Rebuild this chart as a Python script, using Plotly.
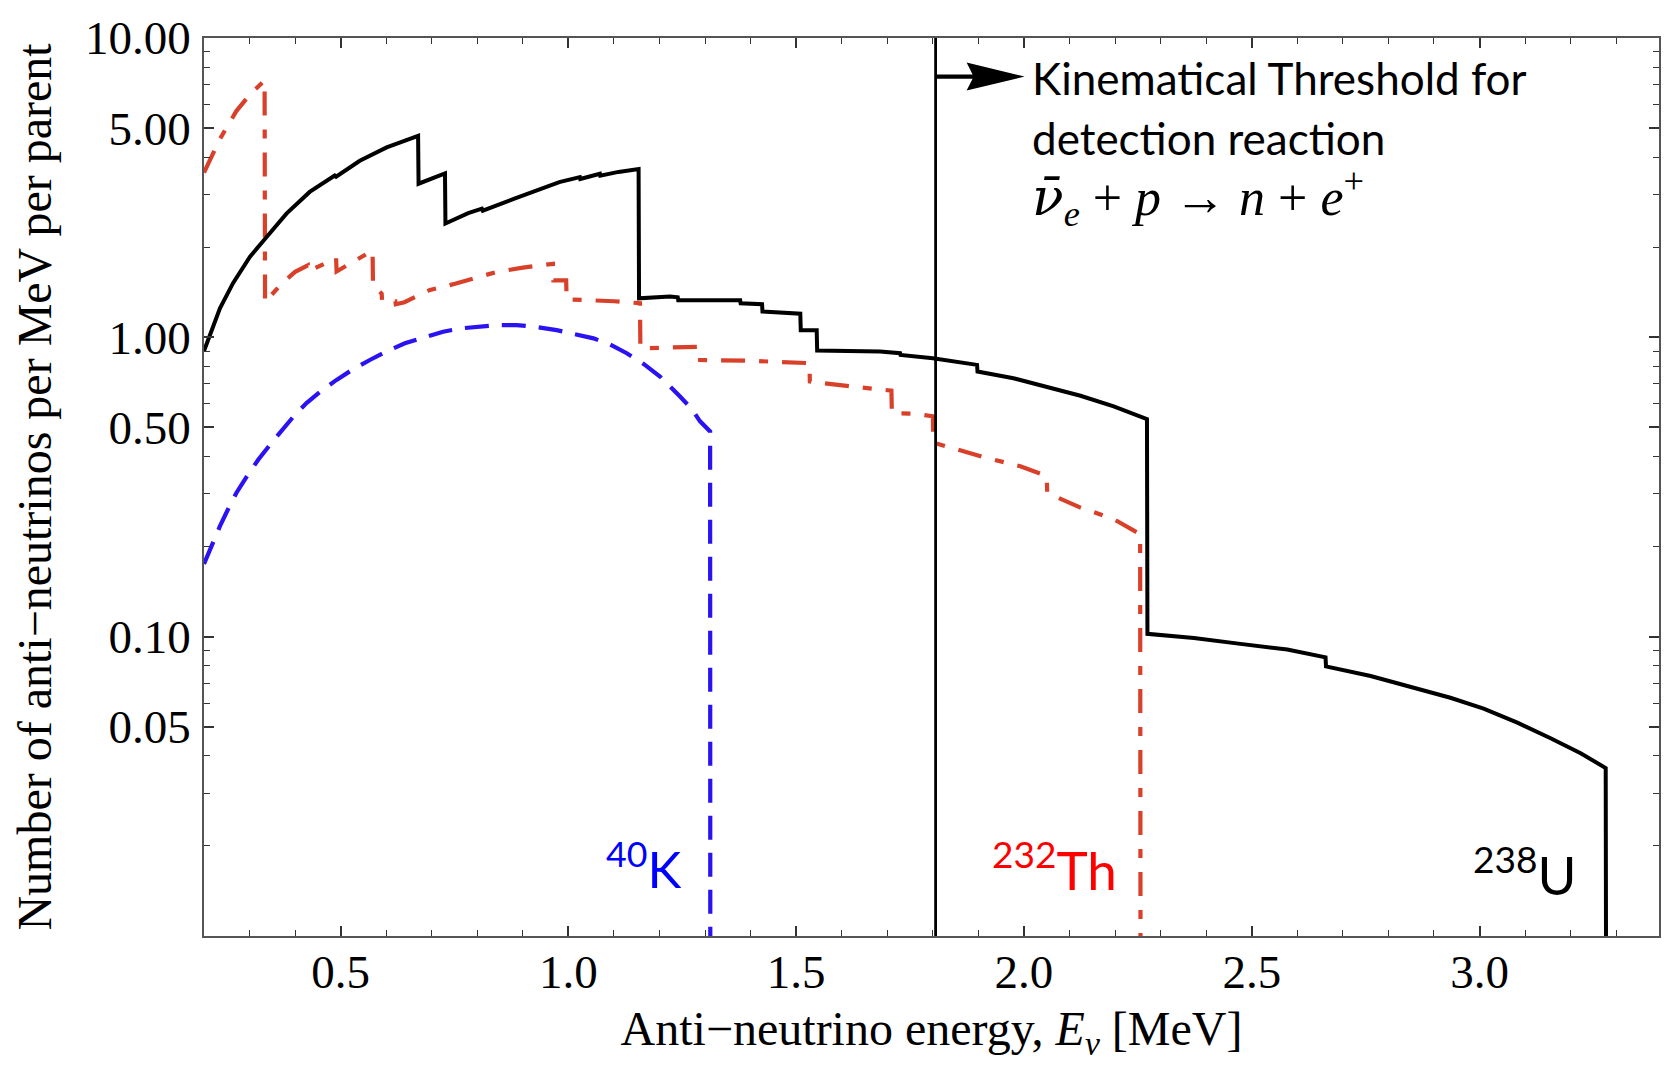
import plotly.graph_objects as go

# --- spectra: anti-neutrinos per MeV per parent decay ---------------------
# 238U chain (black, solid)
U_E = [0.200, 0.215, 0.235, 0.264, 0.301, 0.337, 0.381, 0.432, 0.487, 0.490,
       0.542, 0.601, 0.670, 0.671, 0.729, 0.730, 0.780, 0.810, 0.812, 0.880,
       0.938, 0.980, 1.025, 1.026, 1.069, 1.070, 1.110, 1.154, 1.155, 1.223,
       1.240, 1.241, 1.377, 1.378, 1.425, 1.426, 1.509, 1.510, 1.545, 1.546,
       1.684, 1.728, 1.729, 1.800, 1.897, 1.898, 1.977, 2.050, 2.124, 2.197,
       2.241, 2.270, 2.271, 2.373, 2.475, 2.578, 2.662, 2.663, 2.761, 2.863,
       2.936, 3.009, 3.083, 3.156, 3.222, 3.277, 3.278]
U_V = [0.900, 1.04, 1.25, 1.52, 1.86, 2.16, 2.59, 3.06, 3.47, 3.44,
       3.89, 4.31, 4.71, 3.26, 3.53, 2.40, 2.60, 2.69, 2.65, 2.90,
       3.14, 3.30, 3.43, 3.38, 3.52, 3.47, 3.57, 3.65, 1.35, 1.37,
       1.36, 1.33, 1.33, 1.30, 1.29, 1.22, 1.20, 1.057, 1.057, 0.903,
       0.896, 0.885, 0.873, 0.851, 0.809, 0.769, 0.730, 0.685, 0.638, 0.588,
       0.555, 0.533, 0.1022, 0.0989, 0.0946, 0.0906, 0.0853, 0.0796, 0.0739, 0.0669,
       0.0625, 0.0575, 0.0516, 0.0458, 0.0408, 0.0364, 0.005]

# 232Th chain (red, dot-dashed)
TH_E = [0.200, 0.235, 0.271, 0.300, 0.326, 0.333, 0.334, 0.370, 0.400, 0.428,
        0.429, 0.470, 0.490, 0.491, 0.535, 0.570, 0.571, 0.590, 0.591, 0.620,
        0.621, 0.640, 0.696, 0.751, 0.840, 0.900, 0.966, 0.967, 0.995, 0.996,
        1.100, 1.157, 1.158, 1.288, 1.289, 1.400, 1.529, 1.530, 1.633, 1.709,
        1.710, 1.757, 1.800, 1.801, 1.919, 1.992, 2.050, 2.051, 2.124, 2.197,
        2.255, 2.256]
TH_V = [3.55, 4.60, 5.70, 6.45, 7.05, 7.20, 1.31, 1.51, 1.655, 1.74,
        1.66, 1.78, 1.84, 1.66, 1.81, 1.95, 1.49, 1.40, 1.32, 1.32,
        1.29, 1.31, 1.44, 1.51, 1.65, 1.71, 1.76, 1.55, 1.55, 1.34,
        1.32, 1.30, 0.919, 0.93, 0.84, 0.835, 0.82, 0.712, 0.682, 0.664,
        0.558, 0.556, 0.545, 0.445, 0.395, 0.371, 0.344, 0.302, 0.270, 0.247,
        0.220, 0.005]

# 40K (blue, dashed)
K_E = [0.200, 0.217, 0.235, 0.253, 0.271, 0.295, 0.319, 0.345, 0.370, 0.397,
       0.425, 0.458, 0.491, 0.527, 0.564, 0.602, 0.641, 0.683, 0.725, 0.765,
       0.806, 0.846, 0.886, 0.930, 0.974, 1.015, 1.055, 1.092, 1.128, 1.165,
       1.201, 1.245, 1.270, 1.289, 1.300, 1.311, 1.3115]
K_V = [0.175, 0.203, 0.234, 0.267, 0.302, 0.345, 0.390, 0.438, 0.486, 0.545,
       0.603, 0.663, 0.721, 0.782, 0.840, 0.900, 0.955, 1.002, 1.044, 1.072,
       1.090, 1.099, 1.099, 1.083, 1.057, 1.027, 0.992, 0.945, 0.885, 0.815,
       0.740, 0.634, 0.578, 0.524, 0.503, 0.485, 0.005]

THRESHOLD = 1.806  # MeV, inverse beta decay threshold

X_RANGE = [0.2, 3.394]
X_MAJOR = [0.5, 1.0, 1.5, 2.0, 2.5, 3.0]
X_MAJOR_TEXT = ["0.5", "1.0", "1.5", "2.0", "2.5", "3.0"]
X_MINOR = [round(0.3 + 0.1 * i, 1) for i in range(31)]

Y_MAJOR = [0.05, 0.1, 0.5, 1, 5, 10]
Y_MAJOR_TEXT = ["0.05", "0.10", "0.50", "1.00", "5.00", "10.00"]
Y_MINOR = [0.02, 0.03, 0.04, 0.06, 0.07, 0.08, 0.09,
           0.2, 0.3, 0.4, 0.6, 0.7, 0.8, 0.9,
           2, 3, 4, 6, 7, 8, 9]

RED = "#D9402A"
BLUE = "#2A12F2"
SERIF = "Liberation Serif"
SANS = "Lato"

fig = go.Figure()
fig.add_trace(go.Scatter(x=K_E, y=K_V, mode="lines",
                         line=dict(color=BLUE, width=4.2, dash="24px,13px"),
                         showlegend=False))
fig.add_trace(go.Scatter(x=TH_E, y=TH_V, mode="lines",
                         line=dict(color=RED, width=4.2, dash="24px,14px,9px,14px"),
                         showlegend=False))
fig.add_trace(go.Scatter(x=U_E, y=U_V, mode="lines",
                         line=dict(color="black", width=4),
                         showlegend=False))

# threshold marker line and arrow
fig.add_shape(type="line", xref="x", yref="paper", x0=THRESHOLD, x1=THRESHOLD,
              y0=0, y1=1, line=dict(color="black", width=2.8))
fig.add_shape(type="path", xref="x", yref="paper",
              xsizemode="pixel", ysizemode="pixel",
              xanchor=THRESHOLD, yanchor=0.957,
              path="M0,-2.2 L37,-2.2 L31,-14 L89,0 L31,14 L37,2.2 L0,2.2 Z",
              fillcolor="black", line=dict(width=0))

fig.add_annotation(x=2.014, y=0.955, xref="x", yref="paper", xanchor="left",
                   yanchor="middle", showarrow=False,
                   text="Kinematical Threshold for",
                   font=dict(family=SANS, size=44, color="black"))
fig.add_annotation(x=2.014, y=0.889, xref="x", yref="paper", xanchor="left",
                   yanchor="middle", showarrow=False,
                   text="detection reaction",
                   font=dict(family=SANS, size=44, color="black"))
fig.add_annotation(x=2.014, y=0.822, xref="x", yref="paper", xanchor="left",
                   yanchor="middle", showarrow=False,
                   text=("<span style=\"font-family:DejaVu Serif\"><i>ν̄</i></span>"
                         "<sub><i>e</i></sub> + <i>p</i> → <i>n</i> + "
                         "<i>e</i><sup>+</sup>"),
                   font=dict(family=SERIF, size=52, color="black"))

# isotope labels
fig.add_annotation(x=1.252, y=0.078, xref="x", yref="paper", xanchor="right",
                   yanchor="middle", showarrow=False,
                   text="<sup>40</sup>K",
                   font=dict(family=SANS, size=51, color="#0000FF"))
fig.add_annotation(x=2.208, y=0.078, xref="x", yref="paper", xanchor="right",
                   yanchor="middle", showarrow=False,
                   text="<sup>232</sup>Th",
                   font=dict(family=SANS, size=53, color="#FF0000"))
fig.add_annotation(x=3.218, y=0.072, xref="x", yref="paper", xanchor="right",
                   yanchor="middle", showarrow=False,
                   text="<sup>238</sup>U",
                   font=dict(family=SANS, size=53, color="black"))

axis_common = dict(
    showline=True, linecolor="#555555", linewidth=1.5, mirror="allticks",
    ticks="inside", ticklen=10, tickwidth=1.5, tickcolor="#333333",
    showgrid=False, zeroline=False,
    tickfont=dict(family=SERIF, size=47, color="black"),
)

fig.update_xaxes(
    range=X_RANGE, tickmode="array", tickvals=X_MAJOR, ticktext=X_MAJOR_TEXT,
    minor=dict(tickmode="array", tickvals=X_MINOR, ticks="inside", ticklen=6,
               tickwidth=1.2, tickcolor="#333333"),
    title=dict(text="Anti−neutrino energy, <i>E<sub>ν</sub></i> [MeV]",
               font=dict(family=SERIF, size=48, color="black"), standoff=14),
    ticklabelstandoff=-6,
    **axis_common,
)
fig.update_yaxes(
    type="log", range=[-2, 1], tickmode="array", tickvals=Y_MAJOR,
    ticktext=Y_MAJOR_TEXT,
    minor=dict(tickmode="array", tickvals=Y_MINOR, ticks="inside", ticklen=6,
               tickwidth=1.2, tickcolor="#333333"),
    title=dict(text="Number of anti−neutrinos per MeV per parent",
               font=dict(family=SERIF, size=48, color="black"), standoff=18),
    ticklabelstandoff=2,
    **axis_common,
)

fig.update_layout(
    width=1674, height=1067,
    margin=dict(l=204, r=15, t=34, b=131),
    paper_bgcolor="white", plot_bgcolor="white",
    showlegend=False,
)

fig.write_html("out.html")
